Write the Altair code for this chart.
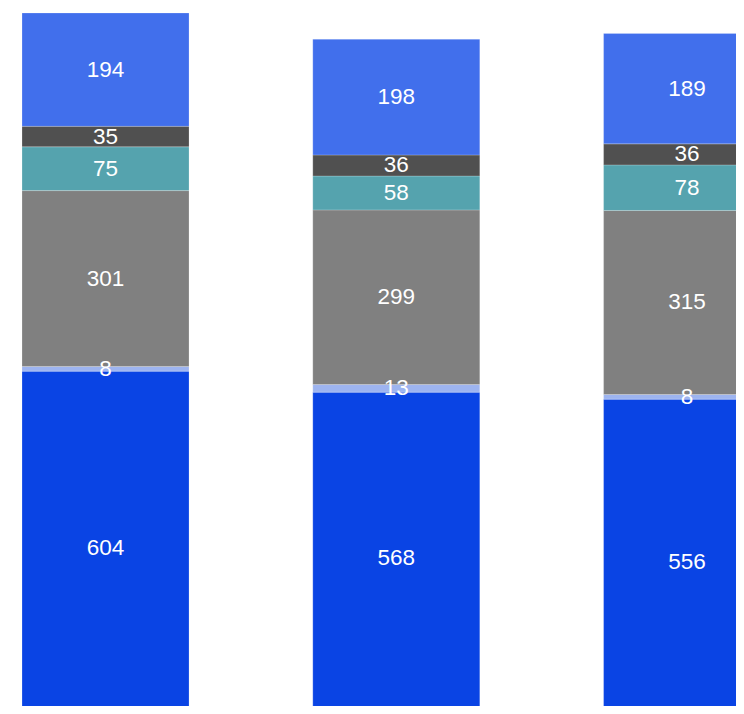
import altair as alt
import pandas as pd

bars = ["A", "B", "C"]
series = ["S1", "S2", "S3", "S4", "S5", "S6"]  # bottom to top
colors = ["#0A44E4", "#9DB4F0", "#808080", "#55A3AE", "#505050", "#416FEC"]
values = {
    "A": [604, 8, 301, 75, 35, 194],
    "B": [568, 13, 299, 58, 36, 198],
    "C": [556, 8, 315, 78, 36, 189],
}

rows = []
for b in bars:
    for i, s in enumerate(series):
        rows.append({"bar": b, "series": s, "order": i, "value": values[b][i]})
df = pd.DataFrame(rows)

base = (
    alt.Chart(df)
    .transform_stack(stack="value", as_=["y0", "y1"], groupby=["bar"],
                     sort=[alt.SortField("order", "ascending")])
    .transform_calculate(mid="(datum.y0 + datum.y1) / 2")
)

x = alt.X("bar:N", axis=None, sort=bars,
          scale=alt.Scale(paddingInner=0.4257, paddingOuter=0.031, range=[0, 766.6]))
yscale = alt.Scale(domain=[0, 1217], nice=False, zero=True, range=[711, 0])

rects = base.mark_bar(stroke="white", strokeWidth=0.6, strokeOpacity=0.35, clip=True).encode(
    x=x,
    y=alt.Y("y0:Q", axis=None, scale=yscale),
    y2="y1:Q",
    color=alt.Color("series:N", scale=alt.Scale(domain=series, range=colors), legend=None),
)

labels = base.mark_text(color="white", fontSize=22.5, font="Liberation Sans",
                        baseline="middle", align="center", clip=True).encode(
    x=x,
    y=alt.Y("mid:Q", axis=None, scale=yscale),
    text="value:Q",
)

chart = (
    alt.layer(rects, labels)
    .properties(width=723, height=693, padding={"left": 5, "top": 5, "right": 0, "bottom": 0})
    .configure_view(stroke=None)
)

chart.save("out.html", embed_options={"renderer": "svg", "actions": False})
